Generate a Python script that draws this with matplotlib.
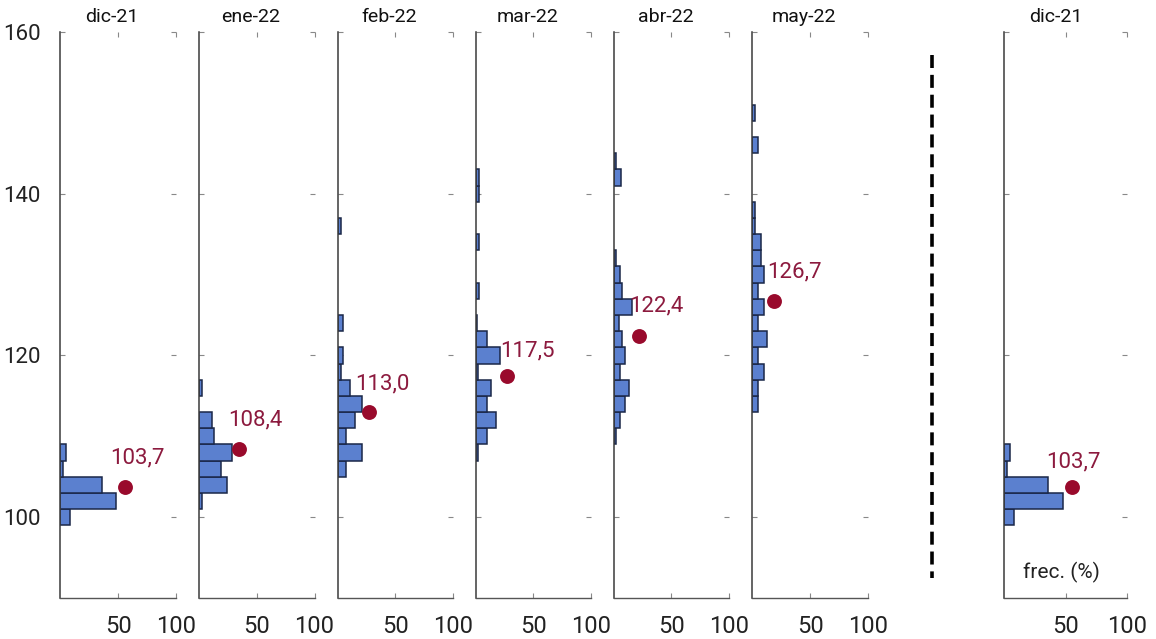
import matplotlib
matplotlib.use("Agg")
import matplotlib.pyplot as plt
from matplotlib.lines import Line2D

plt.rcParams['font.family'] = ['Roboto', 'DejaVu Sans']

# ---------------- data ----------------
panel_titles = ["dic-21", "ene-22", "feb-22", "mar-22", "abr-22", "may-22", "dic-21"]

# histogram bins: centres (2-unit wide bins) and frequencies (%)
dic21_centers = [100, 102, 104, 106, 108]
dic21_freq = [8, 48, 36, 2, 5]

ene22_centers = [102, 104, 106, 108, 110, 112, 116]
ene22_freq = [3, 24, 19, 29, 13, 11, 3]

feb22_centers = [106, 108, 110, 112, 114, 116, 118, 120, 124, 136]
feb22_freq = [7.5, 21, 7.5, 15, 21, 11, 3, 5, 5, 3]

mar22_centers = [108, 110, 112, 114, 116, 118, 120, 122, 124, 128, 134, 140, 142]
mar22_freq = [2, 10, 18, 10, 13.5, 2, 21, 10, 1.5, 2.5, 2.5, 2.5, 2.5]

abr22_centers = [110, 112, 114, 116, 118, 120, 122, 124, 126, 128, 130, 132, 142, 144]
abr22_freq = [2.3, 5.2, 9.8, 13.2, 5.2, 9.8, 7.5, 5, 15.8, 7.5, 5.2, 2.3, 6, 2.3]

may22_centers = [114, 116, 118, 120, 122, 124, 126, 128, 130, 132, 134, 136, 138, 146, 150]
may22_freq = [4.6, 4.6, 10, 4.6, 12.4, 4.6, 10, 4.6, 10, 7.8, 7.8, 2, 2, 4.6, 2.3]

hist_centers = [dic21_centers, ene22_centers, feb22_centers, mar22_centers,
                abr22_centers, may22_centers, dic21_centers]
hist_freq = [dic21_freq, ene22_freq, feb22_freq, mar22_freq,
             abr22_freq, may22_freq, dic21_freq]

# central value (dot) per panel and its horizontal placement (frequency axis)
dot_values = [103.7, 108.4, 113.0, 117.5, 122.4, 126.7, 103.7]
dot_xpos = [55.8, 34.7, 27.3, 27.2, 22.4, 18.7, 55.5]

x_ticks = [50, 100]
y_ticks = [100, 120, 140, 160]

# ---------------- style ----------------
W, H = 1156, 639
fig = plt.figure(figsize=(W / 100, H / 100), dpi=100)

lefts_px = [60.3, 199.0, 337.5, 475.7, 613.6, 752.3, 1004.3]
widths_px = [115.5, 115.5, 115.5, 115.5, 115.5, 115.5, 122.4]
top_px, bottom_px = 32, 598

bar_fc = '#5b80cf'
bar_ec = '#1a2748'
dot_c = '#990a2c'
lab_c = '#8c1a3e'
spine_c = '#555555'
tick_c = '#888888'

# label offsets (points) relative to dot centre
lab_dx = [9, 12, 9.5, 14.5, 12, 14.5, 1]
lab_dy = [21, 21, 20.5, 18, 22, 21, 18.5]

for i in range(7):
    l = lefts_px[i] / W
    w = widths_px[i] / W
    b = (H - bottom_px) / H
    h = (bottom_px - top_px) / H
    ax = fig.add_axes([l, b, w, h])
    ax.barh(hist_centers[i], hist_freq[i], height=2.0, left=0,
            color=bar_fc, edgecolor=bar_ec, linewidth=1.1, zorder=2)
    ax.scatter([dot_xpos[i]], [dot_values[i]], s=115, color=dot_c, zorder=3,
               linewidths=0)
    lab = f"{dot_values[i]:.1f}".replace('.', ',')
    ax.annotate(lab, (dot_xpos[i], dot_values[i]),
                xytext=(lab_dx[i], lab_dy[i]),
                textcoords='offset points', ha='center', va='center',
                fontsize=16, color=lab_c, zorder=4)
    ax.set_xlim(0, 100)
    ax.set_ylim(90, 160)
    ax.set_xticks(x_ticks)
    ax.set_yticks(y_ticks)
    for s in ['top', 'right']:
        ax.spines[s].set_visible(False)
    ax.spines['left'].set_color('#3a3a3a')
    ax.spines['bottom'].set_color(spine_c)
    ax.spines['left'].set_linewidth(1.1)
    ax.spines['bottom'].set_linewidth(1.0)
    ax.tick_params(axis='both', which='both', direction='in', length=3.5,
                   width=0.8, color=tick_c, top=True, right=True)
    ax.tick_params(axis='x', labelsize=17, pad=12, labelcolor='#222222')
    if i == 0:
        ax.tick_params(axis='y', labelsize=16, pad=14, labelcolor='#222222')
    else:
        ax.tick_params(axis='y', labelleft=False)
    ax.annotate(panel_titles[i], (45 if i < 6 else 42, 160), xytext=(0, 4),
                textcoords='offset points', ha='center', va='bottom',
                fontsize=14, color='#111111', annotation_clip=False)
    if i == 6:
        ax.text(47, 93.1, 'frec. (%)', ha='center', va='center', fontsize=15,
                color='#222222')

# dashed separator line
x_line = 931.7 / W
fig.add_artist(Line2D([x_line, x_line], [1 - 55 / H, 1 - 578 / H],
                      transform=fig.transFigure, color='black', linewidth=2.6,
                      linestyle=(0, (3.6, 1.9))))

fig.savefig('out.png', dpi=100)
